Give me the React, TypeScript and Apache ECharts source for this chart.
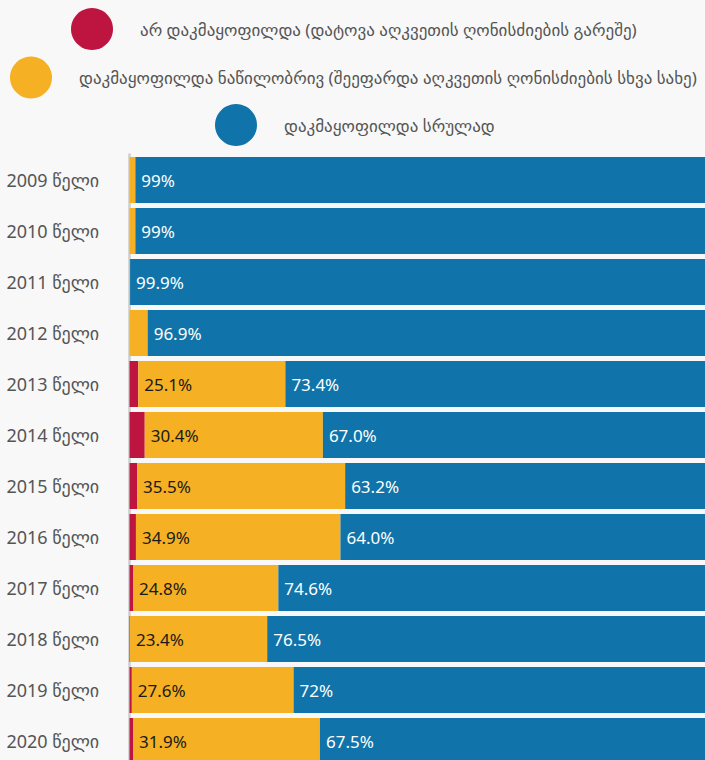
import React, { useEffect, useRef } from "react";
import * as echarts from "echarts";

const categories = [
  "2009 წელი", "2010 წელი", "2011 წელი", "2012 წელი", "2013 წელი", "2014 წელი",
  "2015 წელი", "2016 წელი", "2017 წელი", "2018 წელი", "2019 წელი", "2020 წელი",
];
const seriesNames = [
  "არ დაკმაყოფილდა (დატოვა აღკვეთის ღონისძიების გარეშე)",
  "დაკმაყოფილდა ნაწილობრივ (შეეფარდა აღკვეთის ღონისძიების სხვა სახე)",
  "დაკმაყოფილდა სრულად",
];
const notSatisfied = [0, 0, 0, 0, 1.5, 2.6, 1.3, 1.1, 0.6, 0.1, 0.4, 0.6];
const partly = [1, 1, 0.1, 3.1, 25.1, 30.4, 35.5, 34.9, 24.8, 23.4, 27.6, 31.9];
const fully = [99, 99, 99.9, 96.9, 73.4, 67.0, 63.2, 64.0, 74.6, 76.5, 72, 67.5];
const partlyLabels = ["", "", "", "", "25.1%", "30.4%", "35.5%", "34.9%", "24.8%", "23.4%", "27.6%", "31.9%"];
const fullyLabels = ["99%", "99%", "99.9%", "96.9%", "73.4%", "67.0%", "63.2%", "64.0%", "74.6%", "76.5%", "72%", "67.5%"];

const colors = ["#be1540", "#f5b023", "#1074aa"];
const FONT = "'Noto Sans', 'DejaVu Sans', sans-serif";

export default function App() {
  const ref = useRef<HTMLDivElement>(null);
  useEffect(() => {
    if (!ref.current) return;
    const chart = echarts.init(ref.current, undefined, { renderer: "svg" });
    const legendBase = {
      orient: "horizontal",
      icon: "circle",
      itemWidth: 42,
      itemHeight: 42,
      padding: 0,
      selectedMode: false,
      textStyle: {
        fontSize: 17,
        color: "#555555",
        fontFamily: FONT,
        padding: [0, 0, 0, 22],
      },
    };
    chart.setOption({
      animation: false,
      backgroundColor: "#f8f8f8",
      color: colors,
      legend: [
        { ...legendBase, left: 71, top: 8, data: [seriesNames[0]] },
        { ...legendBase, left: 10, top: 56.5, data: [seriesNames[1]] },
        { ...legendBase, left: 215, top: 104, data: [seriesNames[2]] },
      ],
      grid: { left: 129.5, top: 154.5, width: 586, height: 612, containLabel: false },
      xAxis: {
        type: "value",
        min: 0,
        max: 100,
        show: false,
      },
      yAxis: {
        type: "category",
        data: categories,
        inverse: true,
        offset: 1.3,
        axisLine: { show: true, lineStyle: { color: "#cfcfcf", width: 2.6 } },
        axisTick: { show: false },
        axisLabel: {
          margin: 29,
          fontSize: 18,
          color: "#555555",
          fontFamily: FONT,
        },
      },
      series: [
        {
          name: seriesNames[0],
          type: "bar",
          stack: "total",
          barWidth: 46,
          data: notSatisfied,
          label: { show: false },
        },
        {
          name: seriesNames[1],
          type: "bar",
          stack: "total",
          barWidth: 46,
          data: partly,
          label: {
            show: true,
            position: "insideLeft",
            distance: 6,
            fontSize: 17,
            color: "#1a1a1a",
            fontFamily: FONT,
            formatter: (p: any) => partlyLabels[p.dataIndex],
          },
        },
        {
          name: seriesNames[2],
          type: "bar",
          stack: "total",
          barWidth: 46,
          data: fully,
          label: {
            show: true,
            position: "insideLeft",
            distance: 6,
            fontSize: 17,
            color: "#ffffff",
            fontFamily: FONT,
            formatter: (p: any) => fullyLabels[p.dataIndex],
          },
        },
      ],
    });
    return () => chart.dispose();
  }, []);
  return (
    <div
      style={{
        position: "fixed",
        left: 0,
        top: 0,
        width: 705,
        height: 760,
        overflow: "hidden",
        background: "#f8f8f8",
      }}
    >
      <div ref={ref} style={{ width: 720, height: 770 }} />
    </div>
  );
}
